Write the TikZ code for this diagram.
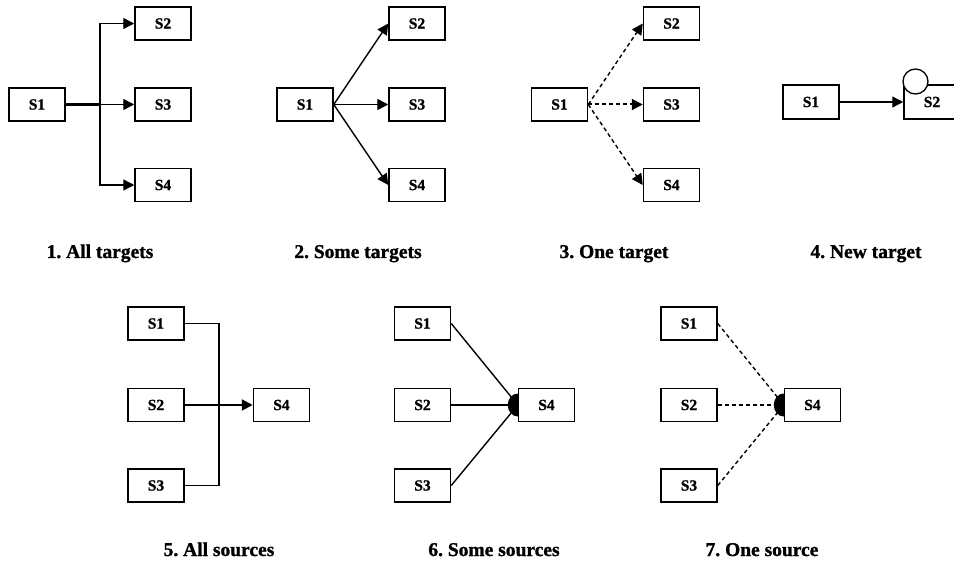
\documentclass[tikz,border=0pt]{standalone}
\usepackage{fontspec}
\setmainfont{Liberation Serif}[BoldFeatures={FakeBold=1.2}]
\usetikzlibrary{arrows.meta}
\frenchspacing
\begin{document}
\begin{tikzpicture}[x=1pt,y=-1pt,
  box/.style={draw, line width=1.5pt, minimum width=56pt, minimum height=33pt,
              inner sep=0pt, font=\fontsize{15.5}{17}\selectfont\bfseries, fill=white},
  lab/.style={anchor=base, inner sep=0pt, font=\fontsize{19.5}{22}\selectfont\bfseries},
  link/.style={line width=1.4pt},
  arr/.style={link, -{Triangle[length=11pt,width=11pt]}},
  dsh/.style={dash pattern=on 4pt off 3pt},
  blob/.style={fill=black}
]
\useasboundingbox (0,0) rectangle (954,564);
\clip (0,0) rectangle (954,564);
\fill[white] (0,0) rectangle (954,564);

% ---- 1. All targets ----
\node[box] (a1) at (37,104.5) {S1};
\node[box] (a2) at (163,23.5) {S2};
\node[box] (a3) at (163,104.5) {S3};
\node[box] (a4) at (163,185) {S4};
\coordinate (aj) at (100,104.5);
\draw[line width=2.8pt] (a1.east) -- (aj);
\draw[arr] (aj) -- (a3.west);
\draw[arr] (aj) |- (a2.west);
\draw[arr] (aj) |- (a4.west);
\node[lab] (la) at (100,258) {1. All targets};

% ---- 2. Some targets ----
\node[box] (b1) at (305,104.5) {S1};
\node[box] (b2) at (417,23.5) {S2};
\node[box] (b3) at (417,104.5) {S3};
\node[box] (b4) at (417,185) {S4};
\draw[arr] (b1.east) -- (b2.west);
\draw[arr] (b1.east) -- (b3.west);
\draw[arr] (b1.east) -- (b4.west);
\node[lab] (lb) at (358,258) {2. Some targets};

% ---- 3. One target ----
\node[box] (c1) at (559.5,104.5) {S1};
\node[box] (c2) at (671.5,23.5) {S2};
\node[box] (c3) at (671.5,104.5) {S3};
\node[box] (c4) at (671.5,185) {S4};
\draw[arr,dsh] (c1.east) -- (c2.west);
\draw[arr,dsh,line width=2pt] (c1.east) -- (c3.west);
\draw[arr,dsh] (c1.east) -- (c4.west);
\node[lab] (lc) at (614,258) {3. One target};

% ---- 4. New target ----
\node[box, minimum height=34pt] (d1) at (811,102) {S1};
\node[box, minimum height=34pt] (d2) at (932,102) {S2};
\node[draw, circle, line width=1.3pt, fill=white, minimum size=25pt, inner sep=0pt] (dc) at (915.5,81.5) {};
\draw[arr] (d1.east) -- (d2.west);
\node[lab] (ld) at (866,258) {4. New target};

% ---- 5. All sources ----
\node[box] (e1) at (156,323.5) {S1};
\node[box] (e2) at (156,405) {S2};
\node[box] (e3) at (156,485.5) {S3};
\node[box] (e4) at (281.5,405) {S4};
\coordinate (ej) at (219,405);
\draw[link] (e1.east) -| (ej);
\draw[link] (e3.east) -| (ej);
\draw[arr,line width=2pt] (e2.east) -- (e4.west);
\node[lab] (le) at (219,556) {5. All sources};

% ---- 6. Some sources ----
\node[box] (f1) at (422.5,323.5) {S1};
\node[box] (f2) at (422.5,405) {S2};
\node[box] (f3) at (422.5,485.5) {S3};
\node[box] (f4) at (546.5,405) {S4};
\draw[link] (f1.east) -- (f4.west);
\draw[link,line width=2pt] (f2.east) -- (f4.west);
\draw[link] (f3.east) -- (f4.west);
\fill[blob] (f4.west) ++(0,11.5) arc[start angle=90, end angle=270, x radius=10, y radius=11.5] -- cycle;
\node[lab] (lf) at (494,556) {6. Some sources};

% ---- 7. One source ----
\node[box] (g1) at (689,323.5) {S1};
\node[box] (g2) at (689,405) {S2};
\node[box] (g3) at (689,485.5) {S3};
\node[box] (g4) at (812.5,405) {S4};
\draw[link,dsh] (g1.east) -- (g4.west);
\draw[link,dsh] (g2.east) -- (g4.west);
\draw[link,dsh] (g3.east) -- (g4.west);
\fill[blob] (g4.west) ++(0,11.5) arc[start angle=90, end angle=270, x radius=10, y radius=11.5] -- cycle;
\node[lab] (lg) at (762,556) {7. One source};
\end{tikzpicture}
\end{document}
